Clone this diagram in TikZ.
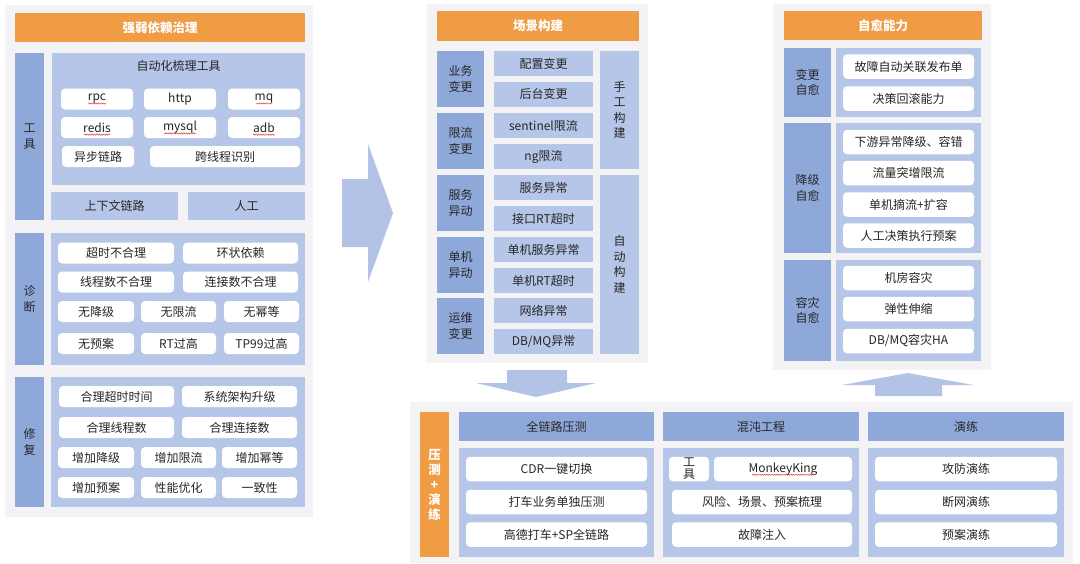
\documentclass[tikz,border=0pt]{standalone}
\usepackage{fontspec}
\setmainfont{Noto Sans CJK SC}
\usetikzlibrary{decorations.pathmorphing}
\definecolor{ink}{HTML}{262626}
\definecolor{backfill}{HTML}{F3F3F5}
\definecolor{accent}{HTML}{F09C45}
\definecolor{barblue}{HTML}{8FA8DA}
\definecolor{panelblue}{HTML}{B6C6E8}
\definecolor{arrowblue}{HTML}{B3C3E6}
\definecolor{spell}{HTML}{E0403A}
\newcommand{\cellfont}{\fontsize{12}{15.5}\selectfont}
\newcommand{\headfont}{\fontsize{12.5}{15}\selectfont\bfseries}
\tikzset{
 every node/.append style={font=\cellfont,text=ink,align=center,inner sep=0pt},
 backdrop/.style={fill=backfill},
 header/.style={fill=accent,text=white,font=\headfont},
 sidebar/.style={fill=barblue},
 panel/.style={fill=panelblue},
 tile/.style={fill=panelblue},
 pill/.style={fill=white,rounded corners=4pt},
 bigarrow/.style={fill=arrowblue},
 squiggle/.style={draw=spell,line width=.5pt,decorate,decoration={snake,amplitude=.6pt,segment length=2.4pt}},
}

\begin{document}
\begin{tikzpicture}[x=1pt,y=-1pt]
\useasboundingbox (0,0) rectangle (1080,563);
\fill[white] (0,0) rectangle (1080,563);

% strong / weak dependency governance
\node[backdrop,minimum width=308,minimum height=512] (leftbg) at (159,261) {};
\node[header,minimum width=290,minimum height=29] (govhead) at (160,27.5) {强弱依赖治理};

\node[sidebar,minimum width=29,minimum height=167] (toolbar) at (29.5,136.5) {工\\具};
\node[panel,minimum width=253,minimum height=132] (autopanel) at (178.5,119) {};
\node (autotitle) at (178.5,66) {自动化梳理工具};
\node[pill,minimum width=72,minimum height=21] (rpc) at (97,99) {rpc};
\node[pill,minimum width=72,minimum height=21] (http) at (180,99) {http};
\node[pill,minimum width=72,minimum height=21] (mq) at (264,99) {mq};
\node[pill,minimum width=72,minimum height=21] (redis) at (97,127.5) {redis};
\node[pill,minimum width=72,minimum height=21] (mysql) at (180,127.5) {mysql};
\node[pill,minimum width=72,minimum height=21] (adb) at (264,127.5) {adb};
\node[pill,minimum width=72,minimum height=21] (async) at (98,156.5) {异步链路};
\node[pill,minimum width=150,minimum height=21] (thread) at (225,156.5) {跨线程识别};
\node[panel,minimum width=127,minimum height=28] (context) at (114.5,206) {上下文链路};
\node[panel,minimum width=117,minimum height=28] (manual) at (246.5,206) {人工};

\draw[squiggle] ([xshift=-9pt,yshift=-2.5pt]rpc.base) -- ([xshift=9pt,yshift=-2.5pt]rpc.base);
\draw[squiggle] ([xshift=-8pt,yshift=-2.5pt]mq.base) -- ([xshift=8pt,yshift=-2.5pt]mq.base);
\draw[squiggle] ([xshift=-13pt,yshift=-2.5pt]redis.base) -- ([xshift=13pt,yshift=-2.5pt]redis.base);
\draw[squiggle] ([xshift=-16pt,yshift=-2.5pt]mysql.base) -- ([xshift=16pt,yshift=-2.5pt]mysql.base);
\draw[squiggle] ([xshift=-11pt,yshift=-2.5pt]adb.base) -- ([xshift=11pt,yshift=-2.5pt]adb.base);

\node[sidebar,minimum width=29,minimum height=132] (diagbar) at (29.5,299) {诊\\断};
\node[panel,minimum width=254,minimum height=132] (diagpanel) at (178,299) {};
\node[pill,minimum width=116,minimum height=21] (timeout) at (116,253) {超时不合理};
\node[pill,minimum width=115,minimum height=21] (cycle) at (240.5,253) {环状依赖};
\node[pill,minimum width=116,minimum height=21] (threads) at (116,282) {线程数不合理};
\node[pill,minimum width=115,minimum height=21] (conns) at (240.5,282) {连接数不合理};
\node[pill,minimum width=76,minimum height=21] (nodegrade) at (96,311.5) {无降级};
\node[pill,minimum width=75,minimum height=21] (nolimit) at (178.5,311.5) {无限流};
\node[pill,minimum width=75,minimum height=21] (noidem) at (261.5,311.5) {无幂等};
\node[pill,minimum width=76,minimum height=21] (noplan) at (96,343.5) {无预案};
\node[pill,minimum width=75,minimum height=21] (rthigh) at (178.5,343.5) {RT过高};
\node[pill,minimum width=75,minimum height=21] (tphigh) at (261.5,343.5) {TP99过高};

\node[sidebar,minimum width=29,minimum height=130] (fixbar) at (29.5,442) {修\\复};
\node[panel,minimum width=254,minimum height=130] (fixpanel) at (178,442) {};
\node[pill,minimum width=115,minimum height=21] (fixtimeout) at (116.5,396.5) {合理超时时间};
\node[pill,minimum width=115,minimum height=21] (upgrade) at (239.5,396.5) {系统架构升级};
\node[pill,minimum width=115,minimum height=21] (fixthreads) at (116.5,427.5) {合理线程数};
\node[pill,minimum width=115,minimum height=21] (fixconns) at (239.5,427.5) {合理连接数};
\node[pill,minimum width=76,minimum height=21] (adddegrade) at (96,457.5) {增加降级};
\node[pill,minimum width=75,minimum height=21] (addlimit) at (178.5,457.5) {增加限流};
\node[pill,minimum width=75,minimum height=21] (addidem) at (259.5,457.5) {增加幂等};
\node[pill,minimum width=76,minimum height=21] (addplan) at (96,487.5) {增加预案};
\node[pill,minimum width=75,minimum height=21] (perf) at (178.5,487.5) {性能优化};
\node[pill,minimum width=75,minimum height=21] (consist) at (259.5,487.5) {一致性};

\fill[bigarrow] (342,179) -- (368,179) -- (368,144) -- (393,213) -- (368,282) -- (368,247) -- (342,247) -- cycle;

% scenario building
\node[backdrop,minimum width=221,minimum height=359] (midbg) at (537.5,183.5) {};
\node[header,minimum width=202,minimum height=30] (scenehead) at (538,26) {场景构建};
\node[sidebar,minimum width=47,minimum height=56] (bizchg) at (460.5,79) {业务\\变更};
\node[sidebar,minimum width=47,minimum height=56] (limitchg) at (460.5,141) {限流\\变更};
\node[sidebar,minimum width=47,minimum height=56] (svcmove) at (460.5,203) {服务\\异动};
\node[sidebar,minimum width=47,minimum height=56] (hostmove) at (460.5,265) {单机\\异动};
\node[sidebar,minimum width=47,minimum height=56] (opschg) at (460.5,326) {运维\\变更};
\node[tile,minimum width=99,minimum height=25] (cfgchg) at (543.5,63.5) {配置变更};
\node[tile,minimum width=99,minimum height=25] (adminchg) at (543.5,94) {后台变更};
\node[tile,minimum width=99,minimum height=25] (sentinel) at (543.5,125.5) {sentinel限流};
\node[tile,minimum width=99,minimum height=25] (nglimit) at (543.5,156.5) {ng限流};
\node[tile,minimum width=99,minimum height=25] (svcerr) at (543.5,187.5) {服务异常};
\node[tile,minimum width=99,minimum height=25] (apirt) at (543.5,218.5) {接口RT超时};
\node[tile,minimum width=99,minimum height=25] (hosterr) at (543.5,249.5) {单机服务异常};
\node[tile,minimum width=99,minimum height=25] (hostrt) at (543.5,280.5) {单机RT超时};
\node[tile,minimum width=99,minimum height=25] (neterr) at (543.5,310.5) {网络异常};
\node[tile,minimum width=99,minimum height=25] (dberr) at (543.5,341.5) {DB/MQ异常};
\node[tile,minimum width=39,minimum height=118] (byhand) at (619.5,110) {手\\工\\构\\建};
\node[tile,minimum width=39,minimum height=179] (byauto) at (619.5,264.5) {自\\动\\构\\建};

\fill[bigarrow] (507,370) -- (567,370) -- (567,383) -- (596,383) -- (536,397) -- (476,383) -- (507,383) -- cycle;

% self-healing
\node[backdrop,minimum width=218,minimum height=366] (rightbg) at (882,187) {};
\node[header,minimum width=198,minimum height=29] (healhead) at (883,25.5) {自愈能力};
\node[sidebar,minimum width=47,minimum height=69] (chgheal) at (807.5,82.5) {变更\\自愈};
\node[panel,minimum width=145,minimum height=69] (chgpanel) at (908.5,82.5) {};
\node[pill,minimum width=131,minimum height=24.5] (relate) at (908.5,66.5) {故障自动关联发布单};
\node[pill,minimum width=131,minimum height=24.5] (rollback) at (908.5,98.5) {决策回滚能力};
\node[sidebar,minimum width=47,minimum height=130] (degheal) at (807.5,188) {降级\\自愈};
\node[panel,minimum width=145,minimum height=130] (degpanel) at (908.5,188) {};
\node[pill,minimum width=131,minimum height=24.5] (downstream) at (908.5,142) {下游异常降级、容错};
\node[pill,minimum width=131,minimum height=24.5] (surge) at (908.5,173) {流量突增限流};
\node[pill,minimum width=131,minimum height=24.5] (drain) at (908.5,204.5) {单机摘流+扩容};
\node[pill,minimum width=131,minimum height=24.5] (runplan) at (908.5,235.5) {人工决策执行预案};
\node[sidebar,minimum width=47,minimum height=101] (drheal) at (807.5,310.5) {容灾\\自愈};
\node[panel,minimum width=145,minimum height=101] (drpanel) at (908.5,310.5) {};
\node[pill,minimum width=131,minimum height=24.5] (idc) at (908.5,278) {机房容灾};
\node[pill,minimum width=131,minimum height=24.5] (elastic) at (908.5,309) {弹性伸缩};
\node[pill,minimum width=131,minimum height=24.5] (dbha) at (908.5,341) {DB/MQ容灾HA};

\fill[bigarrow] (875,396) -- (942,396) -- (942,385) -- (973,385) -- (908,373) -- (842,385) -- (875,385) -- cycle;

% load test + drills
\node[backdrop,minimum width=663,minimum height=161] (botbg) at (741.5,482.5) {};
\node[header,minimum width=29,minimum height=145] (drillbar) at (434.5,484.5) {压\\测\\+\\演\\练};
\node[sidebar,minimum width=195,minimum height=29] (loadhead) at (556.5,426.5) {全链路压测};
\node[sidebar,minimum width=196,minimum height=29] (chaoshead) at (761,426.5) {混沌工程};
\node[sidebar,minimum width=196,minimum height=29] (drillhead) at (966,426.5) {演练};
\node[panel,minimum width=195,minimum height=109] (loadpanel) at (556.5,502.5) {};
\node[panel,minimum width=196,minimum height=109] (chaospanel) at (761,502.5) {};
\node[panel,minimum width=196,minimum height=109] (drillpanel) at (966,502.5) {};
\node[pill,minimum width=181,minimum height=24.5] (cdr) at (556.5,469) {CDR一键切换};
\node[pill,minimum width=181,minimum height=24.5] (taxiload) at (556.5,502) {打车业务单独压测};
\node[pill,minimum width=181,minimum height=24.5] (fullchain) at (556.5,534.5) {高德打车+SP全链路};
\node[pill,minimum width=40,minimum height=24.5,font=\fontsize{12}{12}\selectfont] (chaostool) at (689,469) {工\\具};
\node[pill,minimum width=138,minimum height=24.5] (monkey) at (783,469) {MonkeyKing};
\node[pill,minimum width=180,minimum height=24.5] (risk) at (762,502) {风险、场景、预案梳理};
\node[pill,minimum width=180,minimum height=24.5] (inject) at (762,534.5) {故障注入};
\node[pill,minimum width=182,minimum height=24.5] (attack) at (966,469) {攻防演练};
\node[pill,minimum width=182,minimum height=24.5] (netcut) at (966,502) {断网演练};
\node[pill,minimum width=182,minimum height=24.5] (plandrill) at (966,534.5) {预案演练};
\draw[squiggle] ([xshift=-31pt,yshift=-2.5pt]monkey.base) -- ([xshift=31pt,yshift=-2.5pt]monkey.base);

\end{tikzpicture}
\end{document}
